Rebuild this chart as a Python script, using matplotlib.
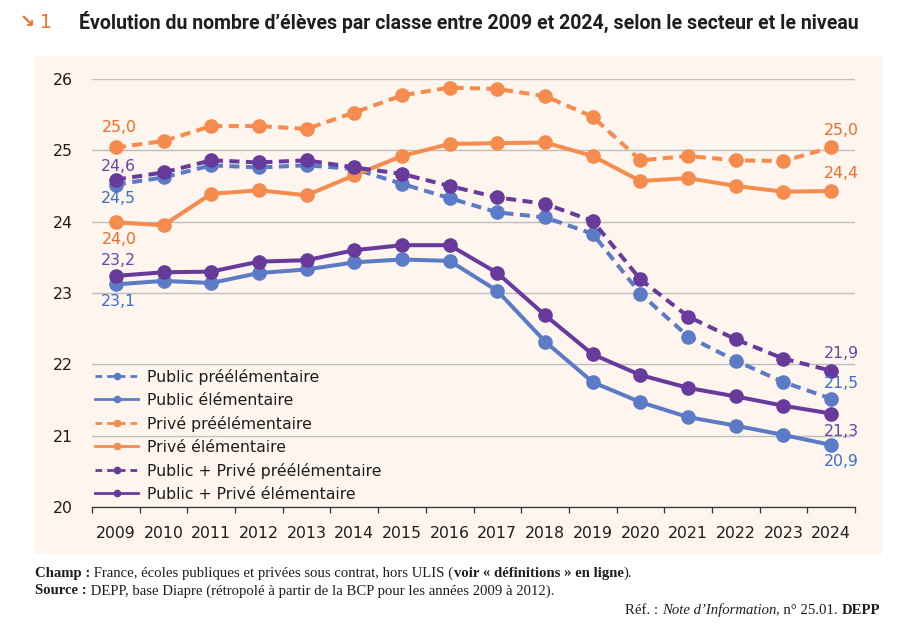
import matplotlib
matplotlib.use("Agg")
import matplotlib.pyplot as plt
from matplotlib.lines import Line2D
from matplotlib.patches import Rectangle

# Données
annees = list(range(2009, 2025))
public_pre = [24.52, 24.62, 24.79, 24.76, 24.79, 24.74, 24.53, 24.33,
              24.13, 24.06, 23.83, 22.99, 22.39, 22.05, 21.75, 21.52]
public_elem = [23.12, 23.17, 23.14, 23.28, 23.33, 23.43, 23.47, 23.45,
               23.03, 22.32, 21.75, 21.47, 21.26, 21.14, 21.01, 20.87]
prive_pre = [25.04, 25.13, 25.34, 25.34, 25.30, 25.53, 25.77, 25.88,
             25.86, 25.76, 25.47, 24.86, 24.92, 24.86, 24.85, 25.04]
prive_elem = [23.99, 23.95, 24.39, 24.44, 24.37, 24.65, 24.92, 25.09,
              25.10, 25.11, 24.92, 24.57, 24.61, 24.50, 24.42, 24.43]
ens_pre = [24.59, 24.69, 24.86, 24.83, 24.86, 24.76, 24.67, 24.50,
           24.34, 24.25, 24.01, 23.19, 22.67, 22.35, 22.08, 21.91]
ens_elem = [23.24, 23.29, 23.30, 23.44, 23.46, 23.60, 23.67, 23.67,
            23.28, 22.69, 22.14, 21.85, 21.67, 21.55, 21.42, 21.31]

noms = ["Public préélémentaire", "Public élémentaire", "Privé préélémentaire",
        "Privé élémentaire", "Public + Privé préélémentaire",
        "Public + Privé élémentaire"]
y_ticks = [20, 21, 22, 23, 24, 25, 26]

titre = "Évolution du nombre d\u2019élèves par classe entre 2009 et 2024, selon le secteur et le niveau"

orange = "#F58B4C"
orange_txt = "#F26C2A"
blue = "#5B7BC6"
blue_txt = "#3D6FC7"
purple = "#673A9B"
purple_txt = "#6E45A4"
bg = "#FDF5EE"
ink = "#1E1E1E"

series = [
    (public_pre, blue, blue_txt, True),
    (public_elem, blue, blue_txt, False),
    (prive_pre, orange, orange_txt, True),
    (prive_elem, orange, orange_txt, False),
    (ens_pre, purple, purple_txt, True),
    (ens_elem, purple, purple_txt, False),
]

W, H = 907, 638
fig = plt.figure(figsize=(W / 100, H / 100), dpi=100)
fig.patches.append(Rectangle((35 / W, 1 - 553 / H), (881 - 35) / W, (553 - 56) / H,
                             transform=fig.transFigure, color=bg, zorder=-5))

ax = fig.add_axes([92 / W, 1 - 507 / H, 763 / W, (507 - 79) / H])
ax.set_facecolor("none")
x = list(range(len(annees)))

for vals, col, _, dashed in series:
    ls = (0, (2.5, 1.6)) if dashed else "-"
    ax.plot(x, vals, color=col, lw=2.9, ls=ls, marker="o", ms=9.5,
            dash_capstyle="butt", clip_on=False, zorder=3)

ax.set_xlim(-0.5, len(annees) - 0.5)
ax.set_ylim(20, 26)
ax.set_yticks(y_ticks)
ax.grid(axis="y", color="#BEBEBE", lw=1.0)
ax.set_axisbelow(True)
ax.tick_params(axis="y", length=0, pad=14, labelsize=11.3, labelcolor=ink)
ax.set_xticks(x)
ax.set_xticklabels([str(a) for a in annees])
ax.set_xticks([i - 0.5 for i in range(len(annees) + 1)], minor=True)
ax.tick_params(axis="x", which="major", length=0, pad=14, labelsize=11.3, labelcolor=ink)
ax.tick_params(axis="x", which="minor", length=4.5, width=0.9, color="#333333")
for s in ["top", "right", "left"]:
    ax.spines[s].set_visible(False)
ax.spines["bottom"].set_color("#333333")
ax.spines["bottom"].set_linewidth(0.9)

# étiquettes de valeurs (première et dernière année)
etiquettes = [
    (0, 0, -14, 3), (1, 0, -17, 3), (2, 0, 20, 3), (3, 0, -17, 3),
    (4, 0, 13, 3), (5, 0, 15, 3),
    (0, -1, 15, 10), (1, -1, -17, 10), (2, -1, 17, 10), (3, -1, 17, 10),
    (4, -1, 17, 10), (5, -1, -18, 10),
]
for k, idx, dy, dx in etiquettes:
    vals, _, tcol, _ = series[k]
    i = x[idx]
    txt = f"{vals[idx]:.1f}".replace(".", ",")
    ax.annotate(txt, (i, vals[idx]), xytext=(dx, dy), textcoords="offset pixels",
                ha="center", va="center", color=tcol, fontsize=11.3, zorder=4)

handles = []
for (vals, col, _, dashed), nom in zip(series, noms):
    ls = (0, (2.4, 1.8)) if dashed else "-"
    handles.append(Line2D([0], [0], color=col, lw=2.0, ls=ls, marker="o",
                          ms=4.5, dash_capstyle="butt", label=nom))
ax.legend(handles=handles, loc="lower left", bbox_to_anchor=(0.004, 0.012),
          frameon=False, fontsize=11.3, handlelength=2.75, handletextpad=0.55,
          labelspacing=0.51, borderpad=0, borderaxespad=0, labelcolor=ink)

# titre
fig.text(20 / W, 1 - 22 / H, "\u2198", color=orange_txt, fontsize=13,
         fontweight="bold", va="center", family="DejaVu Sans")
fig.text(40 / W, 1 - 22 / H, "1", color=orange_txt, fontsize=13.5,
         va="center", family="DejaVu Sans")
t = fig.text(79 / W, 1 - 22 / H, titre, color=ink, fontsize=13,
             fontweight="bold", va="center", family=["Roboto", "DejaVu Sans"])
renderer = fig.canvas.get_renderer()
w = t.get_window_extent(renderer).width
t.set_fontsize(13 * 779 / w)

# notes de bas de page
serif = ["Liberation Serif", "DejaVu Serif"]


def runs_width(runs, size):
    tot = 0
    for txt, wt, st in runs:
        tt = fig.text(0, 0, txt, fontsize=size, fontweight=wt, fontstyle=st, family=serif)
        tot += tt.get_window_extent(renderer).width
        tt.remove()
    return tot


def draw_runs(x0, y0, runs, size):
    xx = x0
    for txt, wt, st in runs:
        tt = fig.text(xx / W, 1 - y0 / H, txt, fontsize=size, fontweight=wt,
                      fontstyle=st, family=serif, color=ink, va="center")
        xx += tt.get_window_extent(renderer).width


champ = [("Champ :", "bold", "normal"),
         (" France, écoles publiques et privées sous contrat, hors ULIS (", "normal", "normal"),
         ("voir « définitions » en ligne", "bold", "normal"),
         (").", "normal", "normal")]
source = [("Source :", "bold", "normal"),
          (" DEPP, base Diapre (rétropolé à partir de la BCP pour les années 2009 à 2012).", "normal", "normal")]
ref = [("Réf. : ", "normal", "normal"), ("Note d\u2019Information", "normal", "italic"),
       (", n° 25.01. ", "normal", "normal"), ("DEPP", "bold", "normal")]

fs = 9.5 * 601 / runs_width(champ, 9.5)
draw_runs(35, 573, champ, fs)
draw_runs(35, 591, source, fs)
draw_runs(880 - runs_width(ref, fs), 610, ref, fs)

fig.savefig("out.png", dpi=100, facecolor="white")
